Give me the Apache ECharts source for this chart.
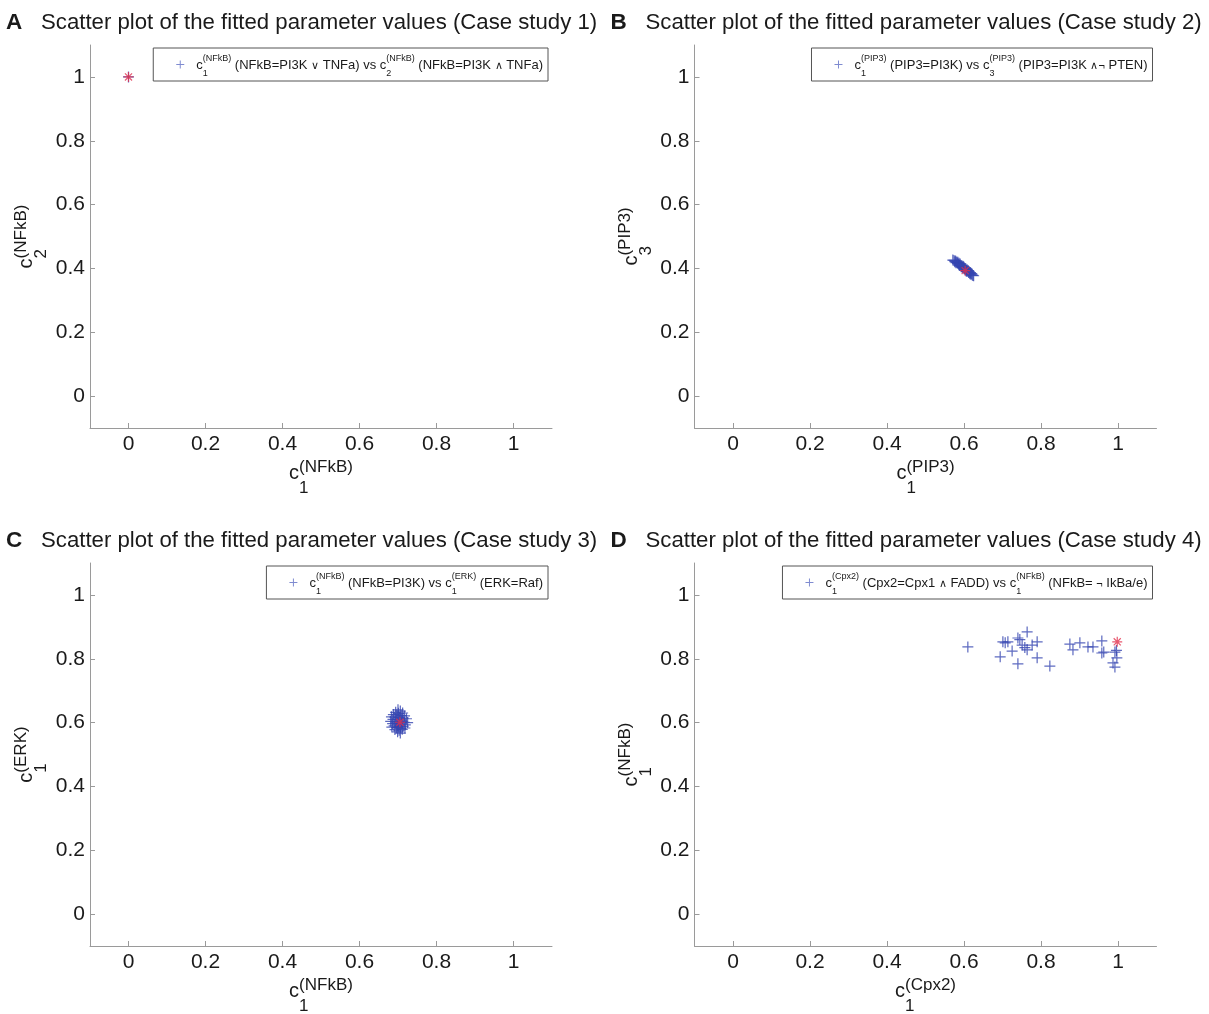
<!DOCTYPE html>
<html><head><meta charset="utf-8">
<script src="https://cdn.jsdelivr.net/npm/echarts@6/dist/echarts.min.js"></script>
<style>html,body{margin:0;padding:0;background:#fff}#c{width:1209px;height:1014px}</style>
</head><body><div id="c"></div>
<script>
// ---------------- data ----------------
const tickValues = [0, 0.2, 0.4, 0.6, 0.8, 1];
const panelLetters = ['A', 'B', 'C', 'D'];
const panelTitles = [
  'Scatter plot of the fitted parameter values (Case study 1)',
  'Scatter plot of the fitted parameter values (Case study 2)',
  'Scatter plot of the fitted parameter values (Case study 3)',
  'Scatter plot of the fitted parameter values (Case study 4)'
];
const xNames = [
  { sup: '(NFkB)', sub: '1' }, { sup: '(PIP3)', sub: '1' },
  { sup: '(NFkB)', sub: '1' }, { sup: '(Cpx2)', sub: '1' }
];
const yNames = [
  { sup: '(NFkB)', sub: '2' }, { sup: '(PIP3)', sub: '3' },
  { sup: '(ERK)', sub: '1' }, { sup: '(NFkB)', sub: '1' }
];
const legendTexts = [
  [['c'], ['(NFkB)', '1'], [' (NFkB=PI3K '], ['∨', 's'], [' TNFa) vs c'], ['(NFkB)', '2'], [' (NFkB=PI3K '], ['∧', 's'], [' TNFa)']],
  [['c'], ['(PIP3)', '1'], [' (PIP3=PI3K) vs c'], ['(PIP3)', '3'], [' (PIP3=PI3K '], ['∧¬', 's'], [' PTEN)']],
  [['c'], ['(NFkB)', '1'], [' (NFkB=PI3K) vs c'], ['(ERK)', '1'], [' (ERK=Raf)']],
  [['c'], ['(Cpx2)', '1'], [' (Cpx2=Cpx1 '], ['∧', 's'], [' FADD) vs c'], ['(NFkB)', '1'], [' (NFkB= '], ['¬', 's'], [' IkBa/e)']]
];

// fitted parameter values (blue) and true values (red)
const fitted1 = [[0, 1]];
const true1 = [[0, 1]];

const fitted2 = [
  [0.571,0.426],[0.574,0.425],[0.576,0.421],[0.578,0.423],[0.579,0.418],[0.581,0.420],
  [0.583,0.416],[0.584,0.419],[0.586,0.413],[0.587,0.416],[0.589,0.411],[0.590,0.414],
  [0.592,0.409],[0.593,0.405],[0.594,0.408],[0.596,0.403],[0.597,0.407],[0.599,0.401],
  [0.600,0.404],[0.601,0.398],[0.603,0.400],[0.604,0.395],[0.605,0.398],[0.607,0.393],
  [0.608,0.396],[0.610,0.390],[0.611,0.393],[0.612,0.387],[0.614,0.389],[0.615,0.385],
  [0.617,0.387],[0.618,0.382],[0.620,0.384],[0.621,0.380],[0.623,0.378],[0.625,0.377],
  [0.588,0.409],[0.598,0.405],[0.606,0.391],[0.616,0.383]
];
const true2 = [[0.603, 0.393]];

const fitted3 = [
  [0.700,0.640],[0.706,0.636],[0.694,0.632],[0.712,0.630],[0.701,0.629],[0.688,0.625],
  [0.697,0.624],[0.708,0.622],[0.717,0.621],[0.683,0.618],[0.692,0.617],[0.703,0.616],
  [0.713,0.614],[0.722,0.612],[0.687,0.610],[0.698,0.609],[0.709,0.608],[0.681,0.604],
  [0.693,0.603],[0.704,0.602],[0.716,0.601],[0.725,0.600],[0.686,0.597],[0.699,0.596],
  [0.710,0.595],[0.719,0.593],[0.690,0.590],[0.702,0.589],[0.713,0.588],[0.684,0.586],
  [0.696,0.584],[0.707,0.582],[0.718,0.583],[0.692,0.578],[0.703,0.576],[0.711,0.579],
  [0.699,0.571],[0.706,0.567],[0.705,0.612],[0.695,0.598],[0.711,0.603],[0.700,0.585]
];
const true3 = [[0.705, 0.601]];

const fitted4 = [
  [0.610,0.837],[0.701,0.853],[0.707,0.850],[0.714,0.853],[0.694,0.806],[0.740,0.865],
  [0.745,0.860],[0.764,0.884],[0.725,0.824],[0.740,0.784],[0.764,0.828],[0.758,0.835],
  [0.790,0.853],[0.790,0.803],[0.823,0.777],[0.777,0.843],[0.751,0.843],[0.875,0.846],
  [0.883,0.828],[0.901,0.850],[0.922,0.837],[0.935,0.837],[0.958,0.856],[0.958,0.818],
  [0.963,0.821],[0.992,0.821],[0.996,0.826],[0.997,0.803],[0.987,0.787],[0.992,0.774]
];
const true4 = [[0.998, 0.853]];

const fittedAll = [fitted1, fitted2, fitted3, fitted4];
const trueAll = [true1, true2, true3, true4];

// ---------------- layout & style ----------------
const FONT = '"Liberation Sans", Arial, Helvetica, sans-serif';
const BLUE = '#3545b0';
const RED = '#e2304c';
const AX = '#9a9a9a';
const TXT = '#1a1a1a';
const gridPos = [{ left: 90, top: 45 }, { left: 694.5, top: 45 }, { left: 90, top: 563 }, { left: 694.5, top: 563 }];
const GW = 462, GH = 383;
const PLUS = 'path://M4.45,0H5.55V10H4.45ZM0,4.45H10V5.55H0Z';
const STAR = 'path://M4.4,0H5.6V10H4.4ZM0,4.4H10V5.6H0ZM1.04,1.89L1.89,1.04L8.96,8.11L8.11,8.96ZM8.11,1.04L8.96,1.89L1.89,8.96L1.04,8.11Z';

const mctx = document.createElement('canvas').getContext('2d');
function textW(t, s, w) { mctx.font = (w || 'normal') + ' ' + s + 'px ' + FONT; return mctx.measureText(t).width; }
function txt(t, x, base, s, weight) {
  return {
    type: 'text', silent: true,
    style: {
      text: t, x: x, y: base - 0.3465 * s,
      font: (weight || 'normal') + ' ' + s + 'px ' + FONT, fill: TXT,
      textAlign: 'left', textVerticalAlign: 'middle', align: 'left', verticalAlign: 'middle'
    }
  };
}
// tokens: {t,s,dy} or {sup,sub,s,up,down}
function mathRow(tokens) {
  let x = 0; const ch = [];
  tokens.forEach(k => {
    if (k.t !== undefined) { ch.push(txt(k.t, x, k.dy || 0, k.s)); x += textW(k.t, k.s); }
    else {
      ch.push(txt(k.sup, x, -k.up, k.s)); ch.push(txt(k.sub, x, k.down, k.s));
      x += Math.max(textW(k.sup, k.s), textW(k.sub, k.s));
    }
  });
  return { ch, w: x };
}

const option = { animation: false, grid: [], xAxis: [], yAxis: [], series: [], graphic: [] };

function axisCfg(i) {
  return {
    type: 'value', gridIndex: i, min: -0.1, max: 1.1,
    axisLine: { show: true, onZero: false, lineStyle: { color: AX, width: 1 } },
    axisTick: { show: true, inside: true, length: 5, customValues: tickValues, lineStyle: { color: AX } },
    axisLabel: { show: true, customValues: tickValues, fontSize: 21, fontFamily: FONT, color: TXT, margin: 6,
      formatter: v => String(+v.toFixed(1)) },
    splitLine: { show: false }
  };
}

gridPos.forEach((g, i) => {
  option.grid.push({ left: g.left, top: g.top, width: GW, height: GH });
  option.xAxis.push(axisCfg(i));
  const ya = axisCfg(i); ya.axisLabel.margin = 5;
  option.yAxis.push(ya);
  option.series.push({ type: 'scatter', name: 'fitted' + (i + 1), xAxisIndex: i, yAxisIndex: i, data: fittedAll[i],
    symbol: PLUS, symbolSize: 11, itemStyle: { color: BLUE, opacity: 0.8 }, z: 2 });
  option.series.push({ type: 'scatter', name: 'true' + (i + 1), xAxisIndex: i, yAxisIndex: i, data: trueAll[i],
    symbol: STAR, symbolSize: 10, itemStyle: { color: RED }, z: 3 });

  // panel title
  const tb = g.top - 14;
  option.graphic.push({ type: 'group', x: g.left - 84, y: tb, children: [
    txt(panelLetters[i], 0, 0, 22.5, 'bold'),
    txt(panelTitles[i], 35, 0, 22.2)
  ] });

  // x axis title
  const xr = mathRow([{ t: 'c', s: 20 }, { sup: xNames[i].sup, sub: xNames[i].sub, s: 17, up: 6.7, down: 14 }]);
  option.graphic.push({ type: 'group', x: g.left + GW / 2 - xr.w / 2, y: g.top + GH + 52, children: xr.ch });

  // y axis title (rotated)
  const yr = mathRow([{ t: 'c', s: 20 }, { sup: yNames[i].sup, sub: yNames[i].sub, s: 17, up: 6.7, down: 14 }]);
  option.graphic.push({ type: 'group', x: g.left - 56.5, y: g.top + GH / 2 + yr.w / 2, rotation: Math.PI / 2, children: yr.ch });

  // legend box
  const toks = legendTexts[i].map(p => {
    if (p.length === 1) return { t: p[0], s: 13 };
    if (p[1] === 's') return { t: p[0], s: 11 };
    return { sup: p[0], sub: p[1], s: 9, up: 8, down: 7 };
  });
  const lr = mathRow(toks);
  const bw = 43 + lr.w + 5, bh = 33;
  const bx = g.left + GW - 4 - bw, by = g.top + 3;
  option.graphic.push({ type: 'group', x: bx, y: by, children: [
    { type: 'rect', shape: { x: 0, y: 0, width: bw, height: bh }, style: { fill: '#fff', stroke: '#555', lineWidth: 1 } },
    { type: 'line', shape: { x1: 27, y1: 12.5, x2: 27, y2: 20.5 }, style: { stroke: '#7f8bd0', lineWidth: 1 } },
    { type: 'line', shape: { x1: 23, y1: 16.5, x2: 31, y2: 16.5 }, style: { stroke: '#7f8bd0', lineWidth: 1 } },
    { type: 'group', x: 43, y: 21.5, children: lr.ch }
  ] });
});

const chart = echarts.init(document.getElementById('c'), null, { renderer: 'canvas' });
chart.setOption(option);
</script>
</body></html>
